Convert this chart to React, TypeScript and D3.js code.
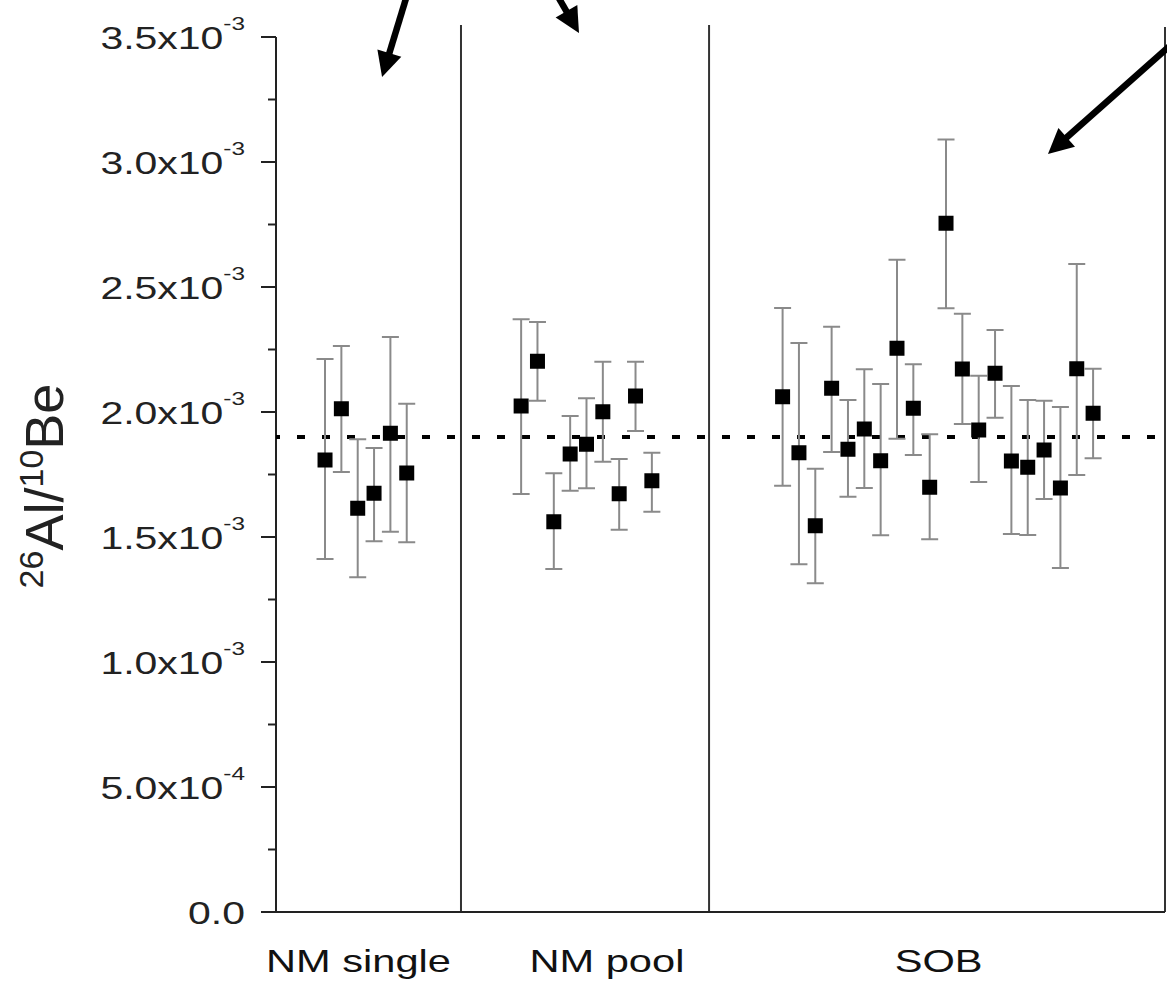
import * as d3 from "d3";
import React from "react";

// values in units of 1e-3
const nmSingle = [1.808, 2.013, 1.615, 1.675, 1.915, 1.756];
const nmSingleLo = [1.412, 1.76, 1.339, 1.483, 1.521, 1.479];
const nmSingleHi = [2.212, 2.264, 1.891, 1.856, 2.3, 2.033];

const nmPool = [2.024, 2.203, 1.561, 1.832, 1.871, 2.001, 1.673, 2.064, 1.725];
const nmPoolLo = [1.672, 2.045, 1.372, 1.685, 1.695, 1.801, 1.529, 1.924, 1.601];
const nmPoolHi = [2.371, 2.36, 1.755, 1.984, 2.055, 2.201, 1.812, 2.201, 1.837];

const sob = [
  2.061, 1.837, 1.545, 2.095, 1.851, 1.932, 1.805, 2.255, 2.015, 1.699,
  2.755, 2.172, 1.928, 2.155, 1.804, 1.779, 1.848, 1.696, 2.173, 1.995,
];
const sobLo = [
  1.705, 1.391, 1.315, 1.84, 1.661, 1.696, 1.507, 1.893, 1.828, 1.491,
  2.415, 1.952, 1.72, 1.977, 1.512, 1.508, 1.652, 1.376, 1.748, 1.815,
];
const sobHi = [
  2.416, 2.276, 1.773, 2.341, 2.048, 2.171, 2.112, 2.609, 2.191, 1.911,
  3.09, 2.393, 2.145, 2.328, 2.104, 2.048, 2.045, 2.02, 2.592, 2.173,
];

// sample slots along x
const groupStart = [3, 15, 31];
const groupNames = ["NM single", "NM pool", "SOB"];
const groupLabelAt = [5.05, 20.25, 40.55];
const dividers = [11.32, 26.5];
const meanRatio = 1.9;

const yTicks = [0, 0.5, 1.0, 1.5, 2.0, 2.5, 3.0, 3.5];
const yTickLabels = [
  ["0.0", ""],
  ["5.0x10", "-4"],
  ["1.0x10", "-3"],
  ["1.5x10", "-3"],
  ["2.0x10", "-3"],
  ["2.5x10", "-3"],
  ["3.0x10", "-3"],
  ["3.5x10", "-3"],
];

// annotation arrows [fromSlot, fromValue, toSlot, toValue]
const arrows = [
  [8.02, 3.668, 6.49, 3.34],
  [16.95, 3.696, 18.54, 3.516],
  [54.83, 3.472, 47.24, 3.032],
];

const FONT = "'Liberation Sans', Arial, Helvetica, sans-serif";

export default function App() {
  const width = 1167;
  const height = 981;
  const left = 276;
  const right = 1165;
  const top = 37;
  const bottom = 912;

  const x = d3.scaleLinear().domain([0, 54.4]).range([left, right]);
  const y = d3.scaleLinear().domain([0, 3.5]).range([bottom, top]);

  const groups = [
    [nmSingle, nmSingleLo, nmSingleHi],
    [nmPool, nmPoolLo, nmPoolHi],
    [sob, sobLo, sobHi],
  ];
  const points = groups.flatMap(([v, lo, hi], g) =>
    v.map((d, i) => ({ slot: groupStart[g] + i, v: d, lo: lo[i], hi: hi[i] }))
  );

  const minorTicks = d3.range(0.25, 3.5, 0.5);
  const sq = 15;
  const cap = 8.5;

  const arrowPaths = arrows.map(([s0, v0, s1, v1]) => {
    const x0 = x(s0), y0 = y(v0), x1 = x(s1), y1 = y(v1);
    const len = Math.hypot(x1 - x0, y1 - y0);
    const ux = (x1 - x0) / len, uy = (y1 - y0) / len;
    const hl = 25, hw = 12.5;
    const bx = x1 - ux * hl, by = y1 - uy * hl;
    const line = d3.line()([[x0, y0], [bx + ux * 2, by + uy * 2]]);
    const head = d3.line()([
      [x1, y1],
      [bx - uy * hw, by + ux * hw],
      [bx + uy * hw, by - ux * hw],
    ]) + "Z";
    return { line, head };
  });

  return (
    <svg
      width={width}
      height={height}
      style={{ position: "absolute", left: 0, top: 0, background: "#fff" }}
      fontFamily={FONT}
    >
      <rect width={width} height={height} fill="#fff" />

      {/* frame and group dividers */}
      {dividers.map((d, i) => (
        <line key={i} x1={x(d)} x2={x(d)} y1={25} y2={bottom} stroke="#333" strokeWidth={2} />
      ))}
      <line x1={right} x2={right} y1={27} y2={bottom} stroke="#333" strokeWidth={2} />
      <line x1={left - 14} x2={right} y1={bottom} y2={bottom} stroke="#222" strokeWidth={2} />
      <line x1={left} x2={left} y1={top} y2={bottom} stroke="#222" strokeWidth={2} />

      {yTicks.map((t) => (
        <line key={t} x1={left - 15} x2={left} y1={y(t)} y2={y(t)} stroke="#222" strokeWidth={2} />
      ))}
      {minorTicks.map((t) => (
        <line key={t} x1={left - 8} x2={left} y1={y(t)} y2={y(t)} stroke="#222" strokeWidth={2} />
      ))}
      {yTicks.map((t, i) => (
        <text
          key={t}
          transform={`translate(245,${y(t) + 12}) scale(1.28,1)`}
          textAnchor="end"
          fontSize={32}
          fill="#222"
        >
          {yTickLabels[i][0]}
          {yTickLabels[i][1] && (
            <tspan fontSize={19} dy={-19}>
              {yTickLabels[i][1]}
            </tspan>
          )}
        </text>
      ))}

      <text
        transform={`translate(63,486) rotate(-90)`}
        textAnchor="middle"
        fontSize={54}
        fill="#222"
      >
        <tspan fontSize={34} dy={-20}>26</tspan>
        <tspan dy={20}>Al/</tspan>
        <tspan fontSize={34} dy={-20}>10</tspan>
        <tspan dy={20}>Be</tspan>
      </text>

      {groupNames.map((n, i) => (
        <text
          key={n}
          transform={`translate(${x(groupLabelAt[i])},972) scale(1.3,1)`}
          textAnchor="middle"
          fontSize={32}
          fill="#111"
        >
          {n}
        </text>
      ))}

      {/* mean ratio */}
      <line
        x1={left}
        x2={right}
        y1={y(meanRatio)}
        y2={y(meanRatio)}
        stroke="#000"
        strokeWidth={4}
        strokeDasharray="8,17"
        strokeDashoffset={4}
      />

      {/* error bars */}
      <g stroke="#8a8a8a" strokeWidth={2}>
        {points.map((p, i) => (
          <g key={i}>
            <line x1={x(p.slot)} x2={x(p.slot)} y1={y(p.lo)} y2={y(p.hi)} />
            <line x1={x(p.slot) - cap} x2={x(p.slot) + cap} y1={y(p.lo)} y2={y(p.lo)} />
            <line x1={x(p.slot) - cap} x2={x(p.slot) + cap} y1={y(p.hi)} y2={y(p.hi)} />
          </g>
        ))}
      </g>
      {points.map((p, i) => (
        <rect
          key={i}
          x={x(p.slot) - sq / 2}
          y={y(p.v) - sq / 2}
          width={sq}
          height={sq}
          fill="#000"
        />
      ))}

      {arrowPaths.map((a, i) => (
        <g key={i}>
          <path d={a.line} stroke="#000" strokeWidth={6.5} fill="none" />
          <path d={a.head} fill="#000" />
        </g>
      ))}
    </svg>
  );
}
